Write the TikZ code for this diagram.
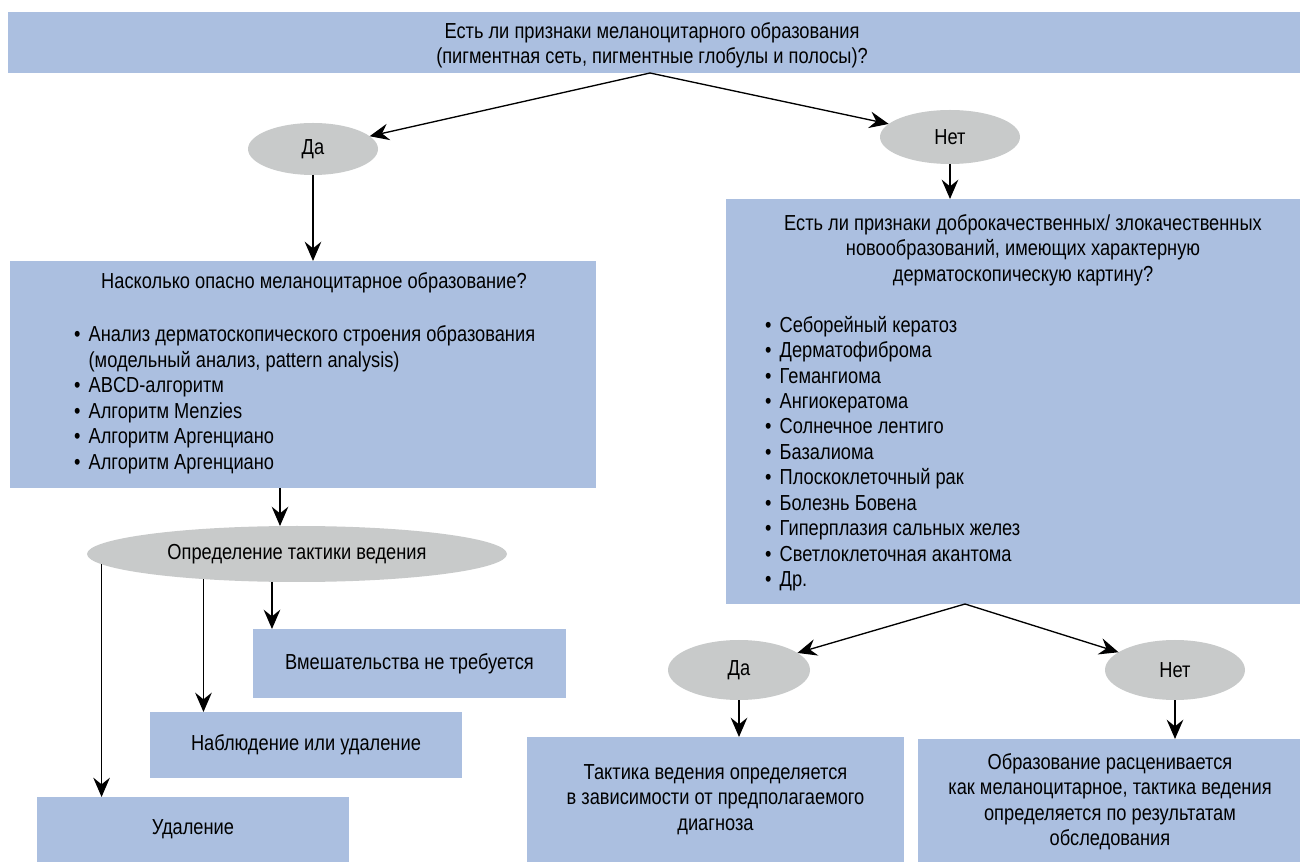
\documentclass[tikz,border=0pt]{standalone}
\usepackage{fontspec}
\setmainfont[FakeStretch=0.84]{Liberation Sans}
\usetikzlibrary{arrows.meta,shapes.geometric}
\definecolor{boxblue}{HTML}{ABBFE0}
\definecolor{ovalgray}{HTML}{C8CACA}
\newcommand\bul{\makebox[11pt][l]{•}}
\begin{document}
\begin{tikzpicture}[x=0.75pt,y=-0.75pt,
  every node/.style={font=\fontsize{16.3}{19.1}\selectfont},
  box/.style n args={2}{rectangle, fill=boxblue, draw=none, inner sep=0pt, outer sep=0pt, align=center,
     minimum width=#1*0.75pt, minimum height=#2*0.75pt},
  oval/.style n args={2}{ellipse, fill=ovalgray, draw=none, inner sep=0pt, outer sep=0pt,
     minimum width=#1*0.75pt, minimum height=#2*0.75pt},
  txt/.style={inner sep=0pt, outer sep=0pt},
  arr/.style={-{Stealth[length=14.5pt,width=12.5pt,inset=5pt]}, line width=1pt}]
\useasboundingbox (0,0) rectangle (1300,862);

% boxes
\node[box={1292}{61}] (top) at (654,42.5) {};
\node[txt, align=center] (toptext) at (652,45.5) {Есть ли признаки меланоцитарного образования\\(пигментная сеть, пигментные глобулы и полосы)?};
\node[box={586}{227}] (left) at (303,374.5) {};
\node[box={574}{405}] (right) at (1013,401.5) {};
\node[box={313}{69}] (vmesh) at (409.5,663.5) {Вмешательства не требуется};
\node[box={312}{66}] (obs) at (306,745) {Наблюдение или удаление};
\node[box={312}{65}] (del) at (193,829.5) {Удаление};
\node[box={377}{125}] (tact1) at (715.5,799.5) {Тактика ведения определяется\\в зависимости от предполагаемого\\диагноза};
\node[box={384}{125}] (tact2) at (1110,801.5) {Образование расценивается\\как меланоцитарное, тактика ведения\\определяется по результатам\\обследования};

% texts inside big boxes
\node[txt] (ltitle) at (314,283) {Насколько опасно меланоцитарное образование?};
\node[txt, anchor=north west, align=left] (llist) at (74,326) {\bul Анализ дерматоскопического строения образования\\
\hphantom{\bul}(модельный анализ, pattern analysis)\\
\bul ABCD-алгоритм\\
\bul Алгоритм Menzies\\
\bul Алгоритм Аргенциано\\
\bul Алгоритм Аргенциано};
\node[txt, align=center] (rtitle) at (1023,250) {Есть ли признаки доброкачественных/ злокачественных\\новообразований, имеющих характерную\\дерматоскопическую картину?};
\node[txt, anchor=north west, align=left] (rlist) at (765,316) {\bul Себорейный кератоз\\
\bul Дерматофиброма\\
\bul Гемангиома\\
\bul Ангиокератома\\
\bul Солнечное лентиго\\
\bul Базалиома\\
\bul Плоскоклеточный рак\\
\bul Болезнь Бовена\\
\bul Гиперплазия сальных желез\\
\bul Светлоклеточная акантома\\
\bul Др.};

% ovals
\node[oval={130}{52}] (da1) at (313,149) {Да};
\node[oval={140}{54}] (net1) at (950,137) {Нет};
\node[oval={420}{56}] (tact) at (297,554) {Определение тактики ведения};
\node[oval={142}{60}] (da2) at (739,670) {Да};
\node[oval={140}{60}] (net2) at (1175,670) {Нет};

% split points
\coordinate (tsplit) at (650,73);
\coordinate (rsplit) at (965,604);
\coordinate (lsplit) at (280,488);

% connectors
\draw[arr] (tsplit) -- (da1);
\draw[arr] (tsplit) -- (net1);
\draw[arr] (da1.south) -- (da1.south |- left.north);
\draw[arr] (net1.south) -- (net1.south |- right.north);
\draw[arr] (lsplit) -- (lsplit |- tact.north);
\draw[arr] (tact.183.6) -- (tact.183.6 |- del.north);
\draw[arr] (tact.195.1) -- (tact.195.1 |- obs.north);
\draw[arr] (tact.228) -- (tact.228 |- vmesh.north);
\draw[arr] (rsplit) -- (da2);
\draw[arr] (rsplit) -- (net2);
\draw[arr] (da2.south) -- (da2.south |- tact1.north);
\draw[arr] (net2.south) -- (net2.south |- tact2.north);
\end{tikzpicture}
\end{document}
